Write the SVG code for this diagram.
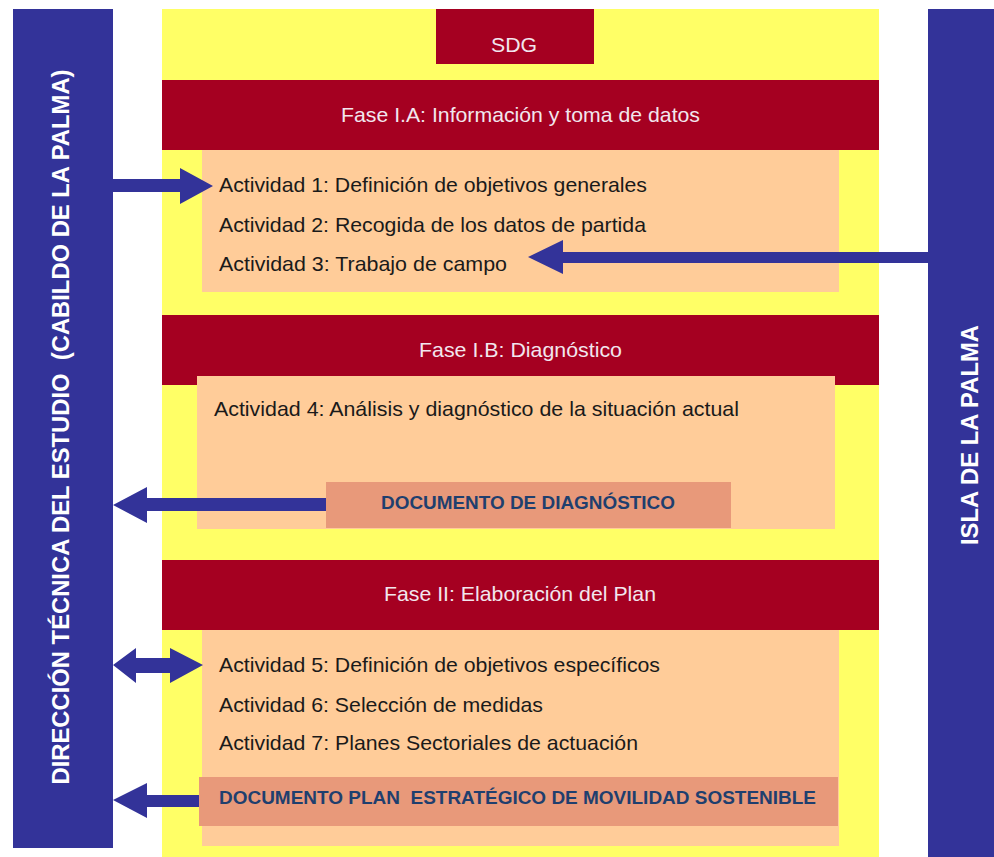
<svg xmlns="http://www.w3.org/2000/svg" width="994" height="857" viewBox="0 0 994 857">
<style>
.bar{fill:#333399}
.yel{fill:#FFFF66}
.red{fill:#A50021}
.org{fill:#FFCC99}
.doc{fill:#E8997A}
text{white-space:pre}
.hd{font-family:"Liberation Sans",Arial,sans-serif;font-size:21px;fill:#F2E6EE}
.act{font-family:"Liberation Sans",Arial,sans-serif;font-size:21px;fill:#1a1a1a}
.dt{font-family:"Liberation Sans",Arial,sans-serif;font-size:18.5px;font-weight:bold;fill:#1F3F6E}
.vt{font-family:"Liberation Sans",Arial,sans-serif;font-size:23.5px;font-weight:bold;fill:#ffffff;text-anchor:middle}
.arr{fill:#333399}
</style>
<rect width="994" height="857" fill="#ffffff"/>
<g id="background"><rect class="yel" x="162" y="9" width="717" height="848"/></g>
<g id="left-bar"><rect class="bar" x="13" y="9" width="100" height="839"/>
<text class="vt" transform="translate(69,427) rotate(-90)" textLength="715" lengthAdjust="spacingAndGlyphs">DIRECCIÓN TÉCNICA DEL ESTUDIO  (CABILDO DE LA PALMA)</text></g>
<g id="right-bar"><rect class="bar" x="928" y="9" width="66" height="848"/>
<text class="vt" transform="translate(978,435) rotate(-90)" textLength="220" lengthAdjust="spacingAndGlyphs">ISLA DE LA PALMA</text></g>
<g id="sdg"><rect class="red" x="436" y="9" width="158" height="55"/><text class="hd" x="491" y="52" textLength="46" lengthAdjust="spacingAndGlyphs">SDG</text></g>
<g id="fase1a"><rect class="red" x="162" y="80" width="717" height="70"/><text class="hd" x="341" y="122" textLength="359" lengthAdjust="spacingAndGlyphs">Fase I.A: Información y toma de datos</text></g>
<g id="box1"><rect class="org" x="202" y="150" width="637" height="142"/>
<text class="act" x="219" y="192" textLength="428" lengthAdjust="spacingAndGlyphs">Actividad 1: Definición de objetivos generales</text>
<text class="act" x="219" y="232" textLength="427" lengthAdjust="spacingAndGlyphs">Actividad 2: Recogida de los datos de partida</text>
<text class="act" x="219" y="271" textLength="288" lengthAdjust="spacingAndGlyphs">Actividad 3: Trabajo de campo</text></g>
<g id="fase1b"><rect class="red" x="162" y="315" width="717" height="70"/><text class="hd" x="419" y="357" textLength="203" lengthAdjust="spacingAndGlyphs">Fase I.B: Diagnóstico</text></g>
<g id="box2"><rect class="org" x="197" y="376" width="638" height="153"/>
<text class="act" x="214" y="416" textLength="525" lengthAdjust="spacingAndGlyphs">Actividad 4: Análisis y diagnóstico de la situación actual</text></g>
<g id="doc-diag"><rect class="doc" x="326" y="482" width="405" height="46"/><text class="dt" x="381" y="509" textLength="294" lengthAdjust="spacingAndGlyphs">DOCUMENTO DE DIAGNÓSTICO</text></g>
<g id="fase2"><rect class="red" x="162" y="560" width="717" height="70"/><text class="hd" x="384" y="601" textLength="272" lengthAdjust="spacingAndGlyphs">Fase II: Elaboración del Plan</text></g>
<g id="box3"><rect class="org" x="202" y="630" width="637" height="216"/>
<text class="act" x="219" y="672" textLength="441" lengthAdjust="spacingAndGlyphs">Actividad 5: Definición de objetivos específicos</text>
<text class="act" x="219" y="712" textLength="324" lengthAdjust="spacingAndGlyphs">Actividad 6: Selección de medidas</text>
<text class="act" x="219" y="750" textLength="419" lengthAdjust="spacingAndGlyphs">Actividad 7: Planes Sectoriales de actuación</text></g>
<g id="doc-plan"><rect class="doc" x="199" y="777" width="639" height="49"/><text class="dt" x="219" y="804" textLength="597" lengthAdjust="spacingAndGlyphs">DOCUMENTO PLAN  ESTRATÉGICO DE MOVILIDAD SOSTENIBLE</text></g>
<g id="connectors">
<polygon class="arr" points="113,179 180,179 180,168 213,186 180,204 180,192 113,192"/>
<polygon class="arr" points="928,252 563,252 563,240 528,257 563,274 563,263 928,263"/>
<polygon class="arr" points="326,498 147,498 147,487 113,505 147,523 147,511 326,511"/>
<polygon class="arr" points="113,665 136,648 136,658 170,658 170,648 203,665 170,683 170,673 136,673 136,683"/>
<polygon class="arr" points="199,795 147,795 147,783 113,800 147,818 147,807 199,807"/>
</g>
</svg>
